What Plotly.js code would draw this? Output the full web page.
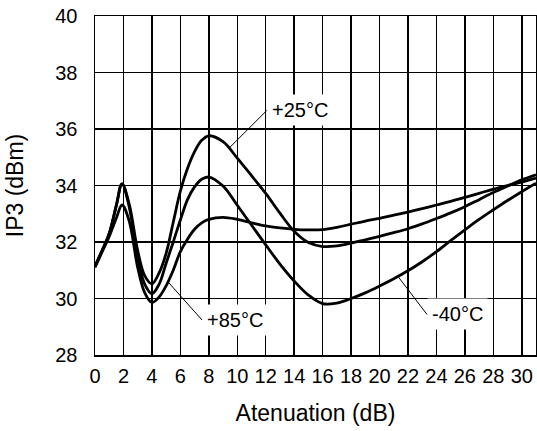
<!DOCTYPE html>
<html>
<head>
<meta charset="utf-8">
<script src="https://cdn.plot.ly/plotly-3.0.1.min.js"></script>
<style>html,body{margin:0;padding:0;background:#fff;}#chart{width:537px;height:431px;}</style>
</head>
<body>
<div id="chart"></div>
<script>
var atten = [0, 0.5, 1, 1.5, 1.9, 2.4, 3, 3.5, 4, 4.5, 5, 5.5, 6, 6.5, 7, 7.5, 8, 9, 10, 11, 12, 13, 14, 15, 16, 17, 18, 19, 20, 21, 22, 23, 24, 25, 26, 27, 28, 29, 30, 31];
var ip3_p25 = [31.15, 31.7, 32.3, 33.3, 34.06, 33.35, 31.7, 30.8, 30.52, 30.9, 31.6, 32.7, 33.8, 34.6, 35.2, 35.6, 35.76, 35.55, 34.97, 34.35, 33.72, 33.02, 32.38, 31.98, 31.84, 31.86, 31.96, 32.08, 32.2, 32.33, 32.47, 32.64, 32.83, 33.03, 33.25, 33.5, 33.75, 33.98, 34.2, 34.38];
var ip3_m40 = [31.15, 31.7, 32.3, 33.3, 34.06, 33.25, 31.45, 30.5, 30.17, 30.5, 31.25, 32.0, 32.78, 33.5, 33.95, 34.22, 34.3, 33.98, 33.3, 32.6, 31.9, 31.22, 30.62, 30.12, 29.82, 29.84, 30.0, 30.2, 30.44, 30.7, 30.98, 31.3, 31.66, 32.05, 32.43, 32.8, 33.14, 33.47, 33.78, 34.08];
var ip3_p85 = [31.1, 31.65, 32.2, 32.85, 33.31, 32.75, 31.1, 30.2, 29.86, 30.05, 30.45, 31.0, 31.66, 32.1, 32.45, 32.68, 32.8, 32.87, 32.8, 32.68, 32.57, 32.5, 32.45, 32.43, 32.44, 32.52, 32.63, 32.74, 32.84, 32.95, 33.06, 33.18, 33.31, 33.44, 33.58, 33.72, 33.87, 34.0, 34.12, 34.26];
var xTicks = [0, 2, 4, 6, 8, 10, 12, 14, 16, 18, 20, 22, 24, 26, 28, 30];
var yTicks = [28, 30, 32, 34, 36, 38, 40];
var labels = ['+25°C', '+85°C', '-40°C'];

var FONT = 'Liberation Sans, Arial, Helvetica, sans-serif';
function tr(y) {
  return {x: atten, y: y, mode: 'lines', type: 'scatter',
    line: {color: '#000', width: 2.8, shape: 'spline', smoothing: 1},
    hoverinfo: 'skip', showlegend: false};
}
var data = [tr(ip3_p25), tr(ip3_m40), tr(ip3_p85)];

function ann(text, x, y, ax, ay) {
  return {text: text, x: x, y: y, xref: 'x', yref: 'y', ax: ax, ay: ay,
    axref: 'pixel', ayref: 'pixel', xanchor: 'left', yanchor: 'middle',
    showarrow: true, arrowhead: 0, arrowwidth: 1, arrowcolor: '#000',
    bgcolor: '#fff', borderpad: 4, font: {family: FONT, size: 20, color: '#000'}};
}

var layout = {
  width: 537, height: 431,
  margin: {l: 95, r: 1, t: 16, b: 76},
  paper_bgcolor: '#fff', plot_bgcolor: '#fff',
  font: {family: FONT, size: 20, color: '#000'},
  xaxis: {range: [0, 31], tickvals: xTicks, ticktext: xTicks.map(String),
    showgrid: true, gridcolor: '#000', gridwidth: 1.5,
    showline: true, mirror: true, linecolor: '#000', linewidth: 1.5,
    zeroline: false, ticks: '', ticklabelstandoff: 2, automargin: false,
    tickfont: {family: FONT, size: 20, color: '#000'},
    title: {text: 'Atenuation (dB)', standoff: 19, font: {family: FONT, size: 23, color: '#000'}}},
  yaxis: {range: [28, 40], tickvals: yTicks, ticktext: yTicks.map(String),
    showgrid: true, gridcolor: '#000', gridwidth: 1.5,
    showline: true, mirror: true, linecolor: '#000', linewidth: 1.5,
    zeroline: false, ticks: '', ticklabelstandoff: 12, automargin: false,
    tickfont: {family: FONT, size: 20, color: '#000'},
    title: {text: 'IP3 (dBm)', standoff: 25, font: {family: FONT, size: 23, color: '#000'}}},
  annotations: [
    ann(labels[0], 9.48, 35.35, 37, -37),
    ann(labels[1], 5.2, 30.55, 33, 37),
    ann(labels[2], 21.3, 30.78, 29, 38)
  ]
};
Plotly.newPlot('chart', data, layout, {staticPlot: true, displayModeBar: false});
</script>
</body>
</html>
